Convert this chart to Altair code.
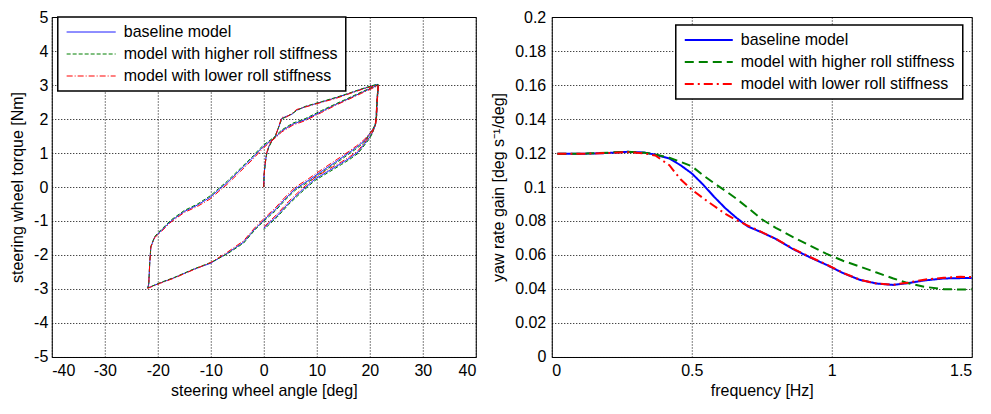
import altair as alt
import pandas as pd

SERIES = ["baseline model", "model with higher roll stiffness", "model with lower roll stiffness"]
COLORS = ["#0000ff", "#008000", "#ff0000"]

# ---- left panel: steering wheel torque vs steering wheel angle ----
ANGLE = [
    0, 0.05, 0.28, 0.5, 0.9, 1.5, 2.2, 2.8, 3.4, 4.3, 5.3, 6.2, 7.8, 10.9, 13.5, 15.9, 18.5, 21.5,
    21.6, 21.4, 21.3, 21.1, 20.6,
    19.0, 17.5, 15.9, 13.5, 10.9, 8.5, 5.9, 4.0, 2.15, 0.9, -0.3, -1.6, -3.8, -6.9, -10, -13.2, -16.9, -19.5, -21.9,
    -21.7, -21.6, -21.5, -21.3, -20.6,
    -19.4, -17.5, -15.0, -12.5, -10, -8.5, -6.9, -4.4, -1.9, -1.0, 0, 1.2, 2.15, 3.4, 5.5, 7.8, 10.9, 13.5, 15.9, 18.5, 21.3, 21.6,
    21.5, 21.3, 21.2, 21.0, 20.5,
    19.95, 17.8, 16.2, 14.65, 12, 9.65, 7, 4.65, 2.5, 0.9, 0,
]
TORQUE_BASE = [
    0, 0.35, 0.7, 0.95, 1.17, 1.35, 1.5, 1.75, 2.02, 2.08, 2.14, 2.26, 2.36, 2.5, 2.62, 2.74, 2.88, 3.02,
    2.9, 2.5, 2.1, 1.85, 1.7,
    1.36, 1.17, 0.99, 0.73, 0.46, 0.2, -0.06, -0.35, -0.67, -0.84, -1.02, -1.22, -1.62, -1.95, -2.24, -2.42, -2.67, -2.82, -2.97,
    -2.85, -2.5, -2.19, -1.76, -1.48,
    -1.29, -1.0, -0.72, -0.53, -0.29, -0.08, 0.13, 0.51, 0.89, 1.05, 1.2, 1.35, 1.46, 1.65, 1.85, 1.98, 2.22, 2.42, 2.59, 2.78, 2.98, 3.0,
    2.85, 2.45, 2.05, 1.8, 1.6,
    1.46, 1.03, 0.85, 0.70, 0.45, 0.23, -0.13, -0.48, -0.85, -1.08, -1.22,
]
TORQUE_HIGH = [
    0, 0.34, 0.68, 0.93, 1.15, 1.34, 1.52, 1.76, 2.0, 2.07, 2.15, 2.25, 2.37, 2.51, 2.63, 2.75, 2.89, 3.03,
    2.92, 2.52, 2.12, 1.86, 1.71,
    1.32, 1.13, 0.95, 0.69, 0.42, 0.16, -0.1, -0.39, -0.71, -0.88, -1.05, -1.25, -1.65, -1.97, -2.22, -2.41, -2.66, -2.81, -2.97,
    -2.85, -2.5, -2.18, -1.74, -1.46,
    -1.26, -0.97, -0.69, -0.5, -0.25, -0.04, 0.17, 0.55, 0.93, 1.09, 1.24, 1.38, 1.49, 1.68, 1.88, 2.01, 2.25, 2.44, 2.61, 2.8, 2.99, 3.01,
    2.87, 2.47, 2.06, 1.81, 1.58,
    1.42, 0.99, 0.81, 0.66, 0.41, 0.19, -0.17, -0.52, -0.89, -1.12, -1.26,
]
TORQUE_LOW = [
    0, 0.36, 0.72, 0.97, 1.2, 1.37, 1.48, 1.78, 2.05, 2.06, 2.16, 2.28, 2.35, 2.49, 2.6, 2.73, 2.87, 3.0,
    2.88, 2.48, 2.08, 1.83, 1.69,
    1.4, 1.21, 1.03, 0.78, 0.51, 0.25, -0.01, -0.3, -0.62, -0.8, -0.98, -1.18, -1.58, -1.92, -2.22, -2.43, -2.68, -2.83, -2.98,
    -2.86, -2.51, -2.2, -1.77, -1.49,
    -1.32, -1.03, -0.75, -0.57, -0.34, -0.13, 0.08, 0.46, 0.84, 1.0, 1.16, 1.32, 1.44, 1.62, 1.82, 1.95, 2.19, 2.4, 2.57, 2.76, 2.96, 2.99,
    2.83, 2.43, 2.03, 1.79, 1.62,
    1.5, 1.07, 0.89, 0.74, 0.5, 0.28, -0.08, -0.43, -0.8, -1.04, -1.18,
]

# ---- right panel: yaw rate gain vs frequency ----
FREQ = [0.02, 0.1, 0.2, 0.27, 0.33, 0.37, 0.42, 0.46, 0.5, 0.54, 0.58, 0.62, 0.66, 0.7,
        0.75, 0.8, 0.86, 0.92, 0.98, 1.04, 1.1, 1.16, 1.22, 1.27, 1.33, 1.4, 1.46, 1.5]
GAIN_BASE = [0.1195, 0.1195, 0.1200, 0.1207, 0.1203, 0.1190, 0.1168, 0.1128, 0.1080, 0.1015, 0.0942, 0.0875, 0.0818, 0.0768,
             0.0733, 0.0695, 0.0636, 0.0588, 0.0543, 0.0494, 0.0454, 0.0432, 0.0424, 0.0434, 0.0450, 0.0462, 0.0464, 0.0464]
GAIN_HIGH = [0.1195, 0.1195, 0.1202, 0.1208, 0.1202, 0.1192, 0.1172, 0.1148, 0.1122, 0.1070, 0.1022, 0.0978, 0.0930, 0.0878,
             0.0810, 0.0760, 0.0707, 0.0657, 0.0608, 0.0566, 0.0532, 0.0497, 0.0462, 0.0435, 0.0413, 0.0399, 0.0397, 0.0398]
GAIN_LOW = [0.1195, 0.1195, 0.1200, 0.1205, 0.1198, 0.1185, 0.1128, 0.1045, 0.0985, 0.0935, 0.0888, 0.0842, 0.0805, 0.0773,
            0.0735, 0.0695, 0.0638, 0.0590, 0.0545, 0.0495, 0.0455, 0.0432, 0.0425, 0.0437, 0.0455, 0.0466, 0.0472, 0.0470]

X1_TICKS = [-40, -30, -20, -10, 0, 10, 20, 30, 40]
Y1_TICKS = [-5, -4, -3, -2, -1, 0, 1, 2, 3, 4, 5]
X2_TICKS = [0, 0.5, 1, 1.5]
Y2_TICKS = [0, 0.02, 0.04, 0.06, 0.08, 0.1, 0.12, 0.14, 0.16, 0.18, 0.2]

rows1 = []
for name, ys in zip(SERIES, [TORQUE_BASE, TORQUE_HIGH, TORQUE_LOW]):
    for i, (a, t) in enumerate(zip(ANGLE, ys)):
        rows1.append({"series": name, "i": i, "angle": a, "torque": t})
df1 = pd.DataFrame(rows1)

rows2 = []
for name, ys in zip(SERIES, [GAIN_BASE, GAIN_HIGH, GAIN_LOW]):
    for i, (f, g) in enumerate(zip(FREQ, ys)):
        rows2.append({"series": name, "i": i, "freq": f, "gain": g})
df2 = pd.DataFrame(rows2)

FONT = "Liberation Sans"
FS = 16
LABEL_EXPR = "toString(datum.value)"
H = 340


def xaxis(values, title):
    return alt.Axis(values=values, title=title, grid=True, ticks=False, domain=False,
                    labelExpr=LABEL_EXPR, labelPadding=6, titlePadding=4)


def yaxis(values, title, lp):
    return alt.Axis(values=values, title=title, grid=True, ticks=False, domain=False,
                    labelExpr=LABEL_EXPR, labelPadding=lp, titlePadding=8)


def legend(x, y, sym, sw, off):
    return alt.Legend(title=None, orient="none", legendX=x, legendY=y, fillColor="white",
                      strokeColor="black", padding=7, labelFont=FONT, labelFontSize=FS,
                      labelColor="black", labelLimit=400, symbolType="M-1,0L7,0", symbolSize=sym,
                      symbolStrokeWidth=sw, rowPadding=6, labelOffset=off)


lg1 = legend(6, 0, 150, 1, 43)
left = alt.Chart(df1).mark_line(strokeWidth=1).encode(
    x=alt.X("angle:Q", scale=alt.Scale(domain=[-40, 40], nice=False, zero=False),
            axis=xaxis(X1_TICKS, "steering wheel angle [deg]")),
    y=alt.Y("torque:Q", scale=alt.Scale(domain=[-5, 5], nice=False, zero=False),
            axis=yaxis(Y1_TICKS, "steering wheel torque [Nm]", 4)),
    color=alt.Color("series:N", scale=alt.Scale(domain=SERIES, range=COLORS), legend=lg1),
    strokeDash=alt.StrokeDash("series:N", scale=alt.Scale(domain=SERIES, range=[[1, 0], [4, 2], [6, 2, 1, 2]]),
                              legend=lg1),
    order="i:Q",
).properties(width=424, height=H)

lg2 = legend(124, 8, 144, 2, 42)
right = alt.Chart(df2).mark_line(strokeWidth=2).encode(
    x=alt.X("freq:Q", scale=alt.Scale(domain=[0, 1.5], nice=False, zero=False),
            axis=xaxis(X2_TICKS, "frequency [Hz]")),
    y=alt.Y("gain:Q", scale=alt.Scale(domain=[0, 0.2], nice=False, zero=False),
            axis=yaxis(Y2_TICKS, "yaw rate gain [deg s\u207b\u00b9/deg]", 6)),
    color=alt.Color("series:N", scale=alt.Scale(domain=SERIES, range=COLORS), legend=lg2),
    strokeDash=alt.StrokeDash("series:N", scale=alt.Scale(domain=SERIES, range=[[1, 0], [9, 5], [9, 4, 2, 4]]),
                              legend=lg2),
    order="i:Q",
).properties(width=420, height=H)

chart = alt.hconcat(left, right, spacing=76, bounds="flush").resolve_scale(
    color="independent", strokeDash="independent"
).resolve_legend(
    color="independent", strokeDash="independent"
).properties(
    padding={"left": 0.78, "top": 0, "right": 2, "bottom": 2},
    background="white",
).configure_view(
    stroke="black", strokeWidth=1
).configure_axis(
    gridColor="black", gridDash=[1, 2], gridOpacity=1, gridWidth=1,
    labelFont=FONT, labelFontSize=FS, labelColor="black",
    titleFont=FONT, titleFontSize=FS, titleFontWeight="normal", titleColor="black",
).configure_legend(
    strokeWidth=1.5
)

chart.save("out.html", embed_options={"renderer": "svg", "actions": False})
